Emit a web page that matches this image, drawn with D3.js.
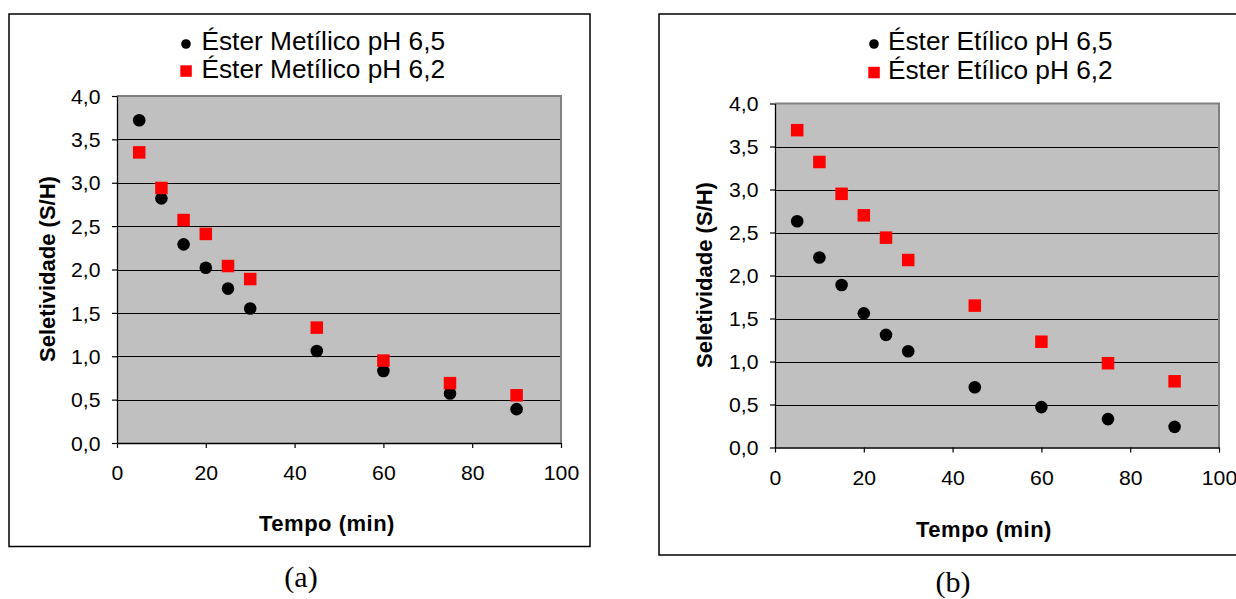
<!DOCTYPE html>
<html>
<head>
<meta charset="utf-8">
<script src="https://cdn.jsdelivr.net/npm/d3@7/dist/d3.min.js"></script>
<style>
  body { margin: 0; background: #fff; }
  svg { display: block; }
</style>
</head>
<body>
<svg id="chart" width="1236" height="599"></svg>
<script>
// Reaction time (min)
const tempo = [5, 10, 15, 20, 25, 30, 45, 60, 75, 90];

// Selectivity S/H, methyl ester
const metilicoPH65 = [3.72, 2.82, 2.29, 2.02, 1.78, 1.55, 1.06, 0.83, 0.57, 0.39];
const metilicoPH62 = [3.35, 2.94, 2.57, 2.41, 2.04, 1.89, 1.33, 0.95, 0.69, 0.55];

// Selectivity S/H, ethyl ester
const etilicoPH65 = [2.63, 2.21, 1.89, 1.56, 1.31, 1.12, 0.70, 0.47, 0.33, 0.24];
const etilicoPH62 = [3.69, 3.32, 2.95, 2.70, 2.44, 2.18, 1.65, 1.23, 0.98, 0.77];

// Axis ticks
const xTicks = [0, 20, 40, 60, 80, 100];
const yTicks = [0, 0.5, 1, 1.5, 2, 2.5, 3, 3.5, 4];

// Legend labels per panel
const legendMetilico = ["Éster Metílico pH 6,5", "Éster Metílico pH 6,2"];
const legendEtilico = ["Éster Etílico pH 6,5", "Éster Etílico pH 6,2"];

const xTitle = "Tempo (min)";
const yTitle = "Seletividade (S/H)";

// Layout of the two panels
const panels = [
  {
    caption: "(a)", legend: legendMetilico, s65: metilicoPH65, s62: metilicoPH62,
    frame: { x: 9, y: 14, w: 581, h: 532.5 },
    plot: { x0: 117, x1: 561, y0: 96, y1: 443 },
    leg: { mx: 186, tx: 201.5, y1: 50, y2: 77.5 },
    xt: { x: 327, y: 531 }, yt: { x: 55, y: 269 }, cap: { x: 301, y: 587 }
  },
  {
    caption: "(b)", legend: legendEtilico, s65: etilicoPH65, s62: etilicoPH62,
    frame: { x: 659, y: 14, w: 620, h: 541 },
    plot: { x0: 775, x1: 1219, y0: 103.5, y1: 447.5 },
    leg: { mx: 874, tx: 888, y1: 50, y2: 79 },
    xt: { x: 984, y: 537 }, yt: { x: 712, y: 275 }, cap: { x: 953, y: 592 }
  }
];

const SANS = "'Liberation Sans', Arial, Helvetica, sans-serif";
const SERIF = "'Liberation Serif', 'Times New Roman', serif";
const RED = "#FF0000";
const TICK_SX = 1.06;   // slightly wide digits of the tick labels

const locale = d3.formatLocale({ decimal: ",", thousands: ".", grouping: [3], currency: ["R$", ""] });
const fmtY = locale.format(".1f");

const svg = d3.select("#chart");

panels.forEach(p => {
  const g = svg.append("g");

  // outer frame
  g.append("rect")
    .attr("x", p.frame.x).attr("y", p.frame.y)
    .attr("width", p.frame.w).attr("height", p.frame.h)
    .attr("fill", "#fff").attr("stroke", "#000").attr("stroke-width", 1.5);

  const x = d3.scaleLinear().domain([0, 100]).range([p.plot.x0, p.plot.x1]);
  const y = d3.scaleLinear().domain([0, 4]).range([p.plot.y1, p.plot.y0]);

  // plot area
  g.append("rect")
    .attr("x", x(0)).attr("y", y(4))
    .attr("width", x(100) - x(0)).attr("height", y(0) - y(4))
    .attr("fill", "#C0C0C0");

  // horizontal gridlines
  g.append("g").selectAll("line")
    .data(yTicks.filter(v => v > 0 && v < 4))
    .join("line")
    .attr("x1", x(0)).attr("x2", x(100))
    .attr("y1", d => Math.round(y(d)) + 0.5).attr("y2", d => Math.round(y(d)) + 0.5)
    .attr("stroke", "#000").attr("stroke-width", 1);

  // grey border on top and right of the plot area
  g.append("path")
    .attr("d", `M${x(0)},${y(4)} H${x(100)} V${y(0)}`)
    .attr("fill", "none").attr("stroke", "#808080").attr("stroke-width", 2);

  // y axis
  const ya = g.append("g")
    .attr("transform", `translate(${x(0)},0)`)
    .call(d3.axisLeft(y).tickValues(yTicks).tickSize(5).tickSizeOuter(0).tickFormat(fmtY));
  ya.select(".domain").attr("stroke", "#000").attr("stroke-width", 1.3);
  ya.selectAll(".tick line").attr("stroke", "#000").attr("stroke-width", 1.2);
  ya.selectAll(".tick text")
    .attr("font-family", SANS).attr("font-size", 20).attr("fill", "#000")
    .attr("x", -16.5 / TICK_SX).attr("dy", "0.36em")
    .attr("transform", `scale(${TICK_SX},1)`);

  // x axis
  const xa = g.append("g")
    .attr("transform", `translate(0,${y(0)})`)
    .call(d3.axisBottom(x).tickValues(xTicks).tickSize(5).tickSizeOuter(0).tickFormat(d3.format("d")));
  xa.select(".domain").attr("stroke", "#000").attr("stroke-width", 1.3);
  xa.selectAll(".tick line").attr("stroke", "#000").attr("stroke-width", 1.2);
  xa.selectAll(".tick text")
    .attr("font-family", SANS).attr("font-size", 20).attr("fill", "#000")
    .attr("y", 37.5).attr("dy", 0)
    .attr("transform", `scale(${TICK_SX},1)`);

  // series: pH 6,2 squares and pH 6,5 circles
  const pts62 = tempo.map((t, i) => [t, p.s62[i]]);
  const pts65 = tempo.map((t, i) => [t, p.s65[i]]);
  const sq = 12.5;

  g.append("g").selectAll("circle")
    .data(pts65).join("circle")
    .attr("cx", d => x(d[0])).attr("cy", d => y(d[1]))
    .attr("r", 6.3).attr("fill", "#000");

  g.append("g").selectAll("rect")
    .data(pts62).join("rect")
    .attr("x", d => x(d[0]) - sq / 2).attr("y", d => y(d[1]) - sq / 2)
    .attr("width", sq).attr("height", sq).attr("fill", RED);

  // legend
  const lg = g.append("g");
  lg.append("circle").attr("cx", p.leg.mx).attr("cy", p.leg.y1 - 6).attr("r", 4.8).attr("fill", "#000");
  lg.append("rect").attr("x", p.leg.mx - 5.7).attr("y", p.leg.y2 - 12.2)
    .attr("width", 11.5).attr("height", 11.5).attr("fill", RED);
  [p.leg.y1, p.leg.y2].forEach((yy, i) => {
    lg.append("text")
      .attr("transform", `translate(${p.leg.tx},${yy}) scale(1.05,1)`)
      .attr("font-family", SANS).attr("font-size", 25).attr("fill", "#000")
      .text(p.legend[i]);
  });

  // axis titles
  g.append("text")
    .attr("x", p.xt.x).attr("y", p.xt.y)
    .attr("text-anchor", "middle")
    .attr("font-family", SANS).attr("font-weight", "bold").attr("font-size", 22)
    .attr("letter-spacing", 0.5)
    .text(xTitle);

  g.append("text")
    .attr("transform", `translate(${p.yt.x},${p.yt.y}) rotate(-90)`)
    .attr("text-anchor", "middle")
    .attr("font-family", SANS).attr("font-weight", "bold").attr("font-size", 22)
    .text(yTitle);

  // panel caption
  svg.append("text")
    .attr("x", p.cap.x).attr("y", p.cap.y)
    .attr("text-anchor", "middle")
    .attr("font-family", SERIF).attr("font-size", 30)
    .text(p.caption);
});
</script>
</body>
</html>
